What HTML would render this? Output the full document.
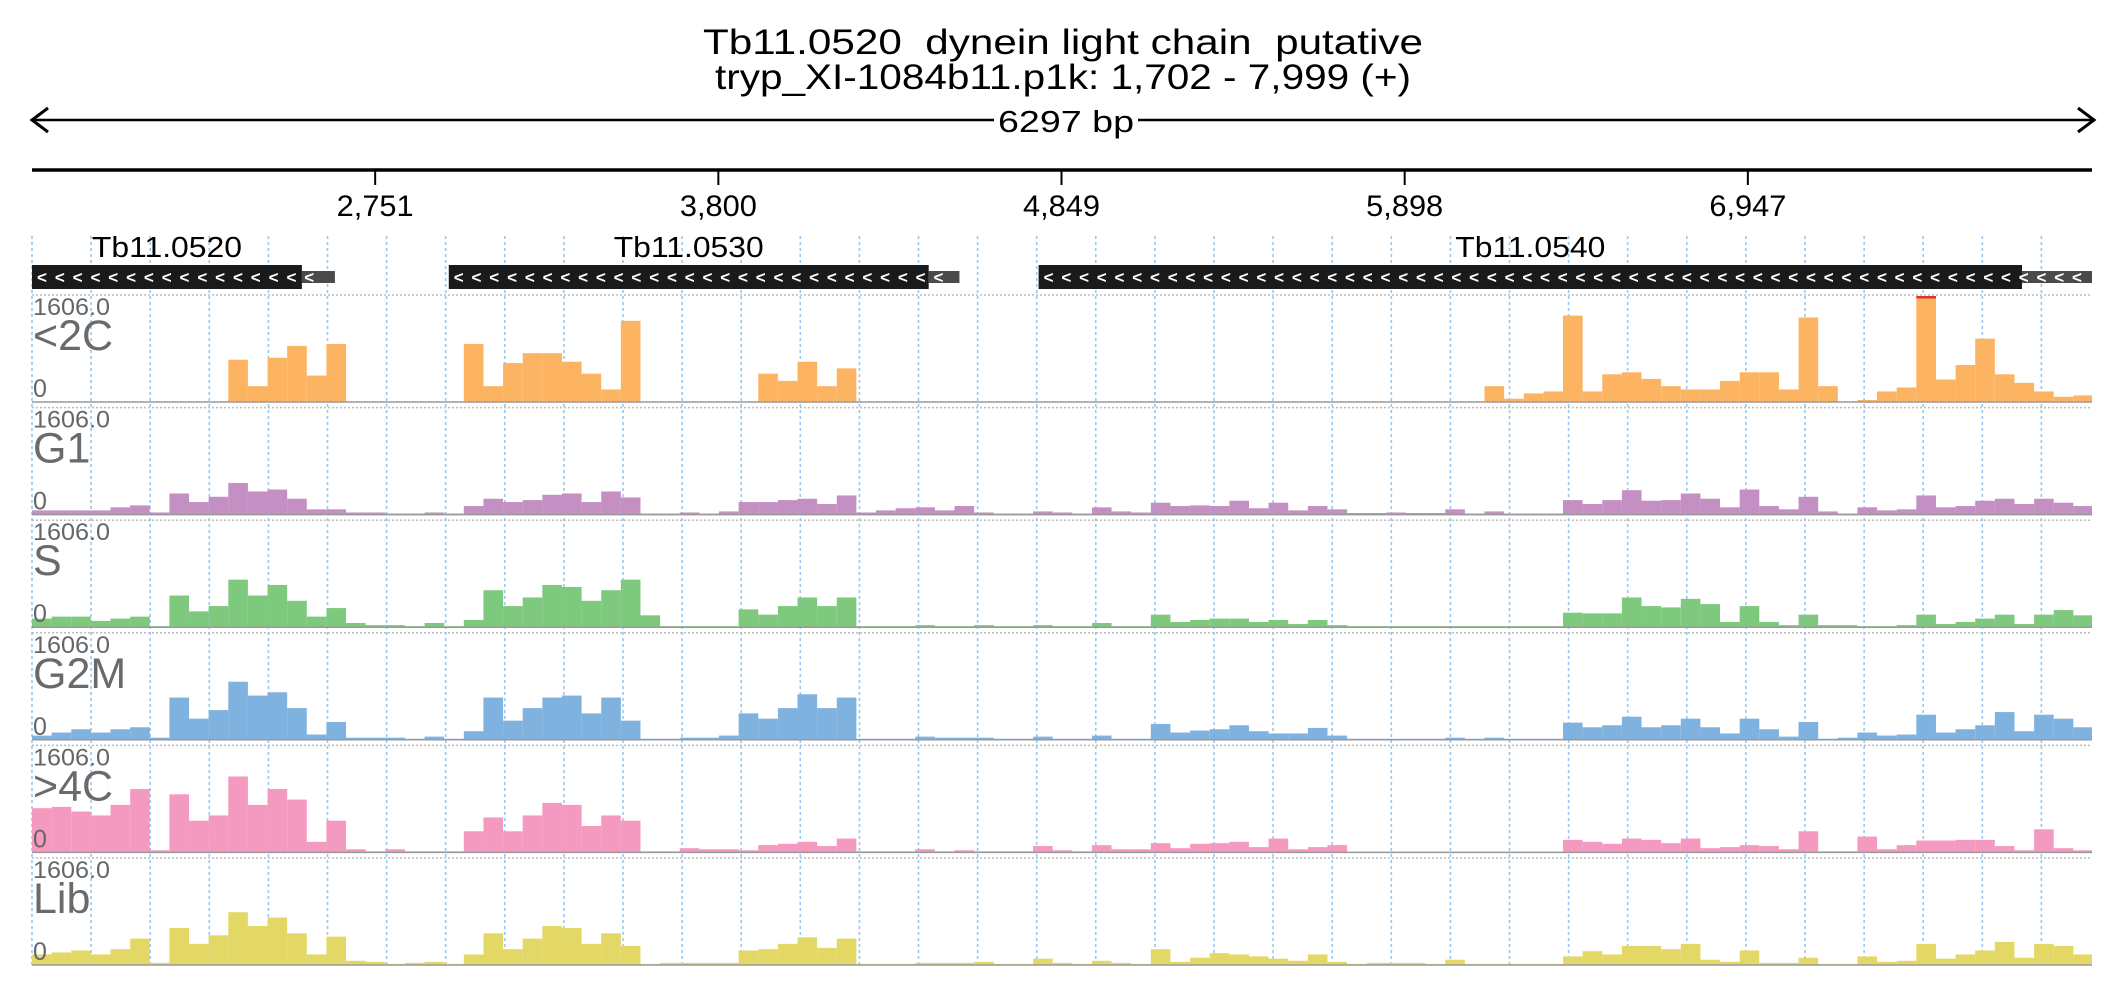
<!DOCTYPE html>
<html><head><meta charset="utf-8"><style>
html,body{margin:0;padding:0;background:#fff;}
svg{display:block;font-family:"Liberation Sans",sans-serif;}
</style></head><body>
<svg id="chart" width="2126" height="1000" viewBox="0 0 2126 1000" xmlns="http://www.w3.org/2000/svg">
<g>
<text x="1063" y="54" text-anchor="middle" font-size="35" textLength="720" lengthAdjust="spacingAndGlyphs">Tb11.0520&#160;&#160;dynein light chain&#160;&#160;putative</text>
<text x="1063" y="89" text-anchor="middle" font-size="35" textLength="696" lengthAdjust="spacingAndGlyphs">tryp_XI-1084b11.p1k: 1,702 - 7,999 (+)</text>
</g>
<g>
<line x1="32" y1="120" x2="2094" y2="120" stroke="#000" stroke-width="2.5"/>
<polyline points="48,108 32,120 48,132" fill="none" stroke="#000" stroke-width="3"/>
<polyline points="2078,108 2094,120 2078,132" fill="none" stroke="#000" stroke-width="3"/>
<rect x="994" y="104" width="144" height="32" fill="#fff"/>
<text x="1066" y="132" text-anchor="middle" font-size="31" textLength="136" lengthAdjust="spacingAndGlyphs">6297 bp</text>
</g>
<g id="axis"></g>
<g id="grid"></g>
<g id="genes"></g>
<g id="tracks"></g>
</svg>
<script>
const NS = "http://www.w3.org/2000/svg";
const startBp = 1702, endBp = 7999, binBp = 60, yMax = 1606;
const tickValues = [2751, 3800, 4849, 5898, 6947];
const tickLabels = ["2,751", "3,800", "4,849", "5,898", "6,947"];
const geneNames = ["Tb11.0520", "Tb11.0530", "Tb11.0540"];
const geneCdsStart = [1702, 2976, 4779];
const geneCdsEnd = [2527, 4443, 7785];
const geneUtrEnd = [2628, 4537, 7999];
const trackNames = ["<2C", "G1", "S", "G2M", ">4C", "Lib"];
const trackColors = ["#fdb462", "#c48fc2", "#7fc97f", "#7fb2df", "#f49ac1", "#e3d866"];
const t_2C = [0,0,0,0,0,0,0,0,0,0,640,240,670,850,400,880,0,0,0,0,0,0,880,240,590,740,740,610,430,190,1230,0,0,0,0,0,0,430,320,610,240,510,0,0,0,0,0,0,0,0,0,0,0,0,0,0,0,0,0,0,0,0,0,0,0,0,0,0,0,0,0,0,0,0,240,50,130,160,1310,160,420,450,350,240,190,190,320,450,450,190,1280,240,0,30,160,220,1700,340,560,960,420,290,160,80,100];
const t_G1 = [64,64,64,64,110,140,32,320,190,270,480,350,380,240,80,80,32,32,16,16,32,16,130,240,190,220,300,320,190,350,260,16,16,32,16,48,190,190,220,240,160,290,32,64,96,110,64,130,32,16,16,48,32,16,110,48,32,180,130,140,130,210,96,180,64,130,80,24,24,32,24,24,80,16,48,16,16,16,220,160,220,370,210,220,320,240,110,380,130,80,270,48,16,110,64,80,290,110,130,210,240,160,240,180,130];
const t_S = [130,160,160,96,130,160,16,480,240,320,720,480,640,400,160,290,64,32,32,16,64,16,110,560,320,450,640,610,400,560,720,180,16,16,16,16,270,190,320,450,320,450,16,16,16,32,16,16,32,16,16,32,16,16,64,16,16,190,80,110,130,130,80,110,48,110,32,16,16,16,16,16,16,16,16,16,16,16,220,210,210,450,320,300,430,350,80,320,80,32,190,32,32,16,16,32,190,48,80,130,190,48,190,260,180];
const t_G2M = [64,110,160,110,160,190,32,640,320,450,880,670,720,480,80,270,32,32,32,16,48,16,130,640,290,480,640,670,400,640,290,16,16,32,32,64,400,320,480,690,480,640,16,16,16,48,32,32,32,16,16,48,16,16,64,16,16,240,110,140,160,220,130,96,96,180,64,16,16,16,16,16,32,16,32,16,16,16,260,190,220,350,190,220,320,190,96,320,160,48,270,16,32,110,64,80,380,110,160,220,420,130,380,320,190];
const t_4C = [670,690,620,560,720,960,32,880,480,560,1150,720,960,800,160,480,48,16,48,16,16,16,320,530,320,560,750,720,400,560,480,16,16,64,48,48,32,110,130,160,96,210,16,16,16,48,16,32,16,16,16,96,32,16,110,48,48,140,64,130,140,160,80,210,48,80,110,8,8,8,8,8,8,8,8,8,8,8,190,160,130,210,190,140,210,64,80,110,96,48,320,16,16,240,48,110,180,180,190,190,96,32,350,64,32];
const t_Lib = [160,190,220,160,240,400,32,560,320,450,800,590,720,480,160,430,64,48,16,32,48,16,160,480,240,400,590,560,320,480,290,16,32,32,32,32,220,240,320,420,260,400,16,16,16,32,32,32,48,16,16,96,32,16,64,32,16,240,48,110,180,160,130,96,64,160,48,16,32,32,32,16,80,16,16,16,16,16,130,210,160,290,290,240,320,80,48,220,32,32,110,16,16,130,48,64,320,96,160,220,350,110,320,290,160];
const trackData = [t_2C, t_G1, t_S, t_G2M, t_4C, t_Lib];

const X0 = 32, X1 = 2092;
function xScale(bp){ return X0 + (bp - startBp) * (X1 - X0) / (endBp - startBp); }
const trackTop0 = 296, trackStep = 112.6, trackH = 106;
function yScale(v, k){ const base = trackTop0 + trackStep*k + trackH; return base - Math.min(v, yMax) / yMax * trackH; }
function mk(tag, attrs, parent){ const e = document.createElementNS(NS, tag); for (const a in attrs) e.setAttribute(a, attrs[a]); parent.appendChild(e); return e; }

// axis
const axis = document.getElementById('axis');
mk('line', {x1:X0, y1:170, x2:X1, y2:170, stroke:'#000', 'stroke-width':3.5}, axis);
tickValues.forEach((v,i)=>{
  const x = xScale(v);
  const t = mk('line', {x1:x, y1:170, x2:x, y2:185, stroke:'#000', 'stroke-width':2}, axis);
  
  
  const lb = mk('text', {x:x, y:216, 'text-anchor':'middle', 'font-size':30, textLength:77, lengthAdjust:'spacingAndGlyphs'}, axis);
  lb.textContent = tickLabels[i];
  
  
});

// vertical grid
const grid = document.getElementById('grid');
for (let k = 0; k <= 35; k++){
  const x = X0 + 59.1*k;
  if (x > 2100) break;
  const g = mk('line', {x1:x, y1:236, x2:x, y2:966, stroke:'#9cc7ea', 'stroke-width':1.6, 'stroke-dasharray':'3,3'}, grid);
  
  
}

// genes
const genes = document.getElementById('genes');
geneNames.forEach((n,i)=>{
  const xs = xScale(geneCdsStart[i]), xe = xScale(geneCdsEnd[i]), xu = Math.min(xScale(geneUtrEnd[i]), X1);
  const grp = mk('g', {}, genes);
  
  
  mk('rect', {x:xe, y:271, width:xu-xe, height:12, fill:'#4a4a4a'}, grp);
  mk('rect', {x:xs, y:265, width:xe-xs, height:24, fill:'#1a1a1a'}, grp);
  const lb = mk('text', {x:(xs+xe)/2, y:257, 'text-anchor':'middle', 'font-size':29, textLength:150, lengthAdjust:'spacingAndGlyphs'}, grp);
  lb.textContent = n;
  
  
  let s = '';
  const cnt = Math.floor((xu - xs - 6) / 17.7);
  for (let c = 0; c < cnt; c++) s += '<';
  const ch = mk('text', {x:xs+5, y:283, 'font-size':17, 'font-weight':'bold', fill:'#fff', textLength:cnt*17.7-6, lengthAdjust:'spacing'}, grp);
  ch.textContent = s;
  
  
});

// tracks
const tracks = document.getElementById('tracks');
trackData.forEach((arr,k)=>{
  const top = trackTop0 + trackStep*k, base = top + trackH;
  const g = mk('g', {}, tracks);
  
  
  mk('line', {x1:X0, y1:top-1, x2:X1, y2:top-1, stroke:'#bdbdbd', 'stroke-width':1.5, 'stroke-dasharray':'2,2'}, g);
  arr.forEach((v,i)=>{
    const bs = startBp + i*binBp;
    if (bs >= endBp) return;
    const x = xScale(bs), xe = Math.min(xScale(bs+binBp), X1);
    const y = yScale(v, k);
    const r = mk('rect', {x:x, y:y, width:Math.max(0,xe-x), height:base-y, fill:trackColors[k]}, g);
    
    
    if (v > yMax){
      const c = mk('rect', {x:x, y:top, width:xe-x, height:2.5, fill:'#d33'}, g);
      
      
    }
  });
  mk('line', {x1:X0, y1:base, x2:X1, y2:base, stroke:'#999', 'stroke-width':1.5}, g);
  const mx = mk('text', {x:33, y:top+19, 'font-size':24, fill:'#666', textLength:77, lengthAdjust:'spacingAndGlyphs'}, g);
  mx.textContent = '1606.0';
  
  
  const nm = mk('text', {x:33, y:top+54, 'font-size':43, fill:'#6a6a6a'}, g);
  nm.textContent = trackNames[k];
  
  
  const z = mk('text', {x:33, y:base-5, 'font-size':25, fill:'#666'}, g);
  z.textContent = '0';
  
  
});
</script>
</body></html>
